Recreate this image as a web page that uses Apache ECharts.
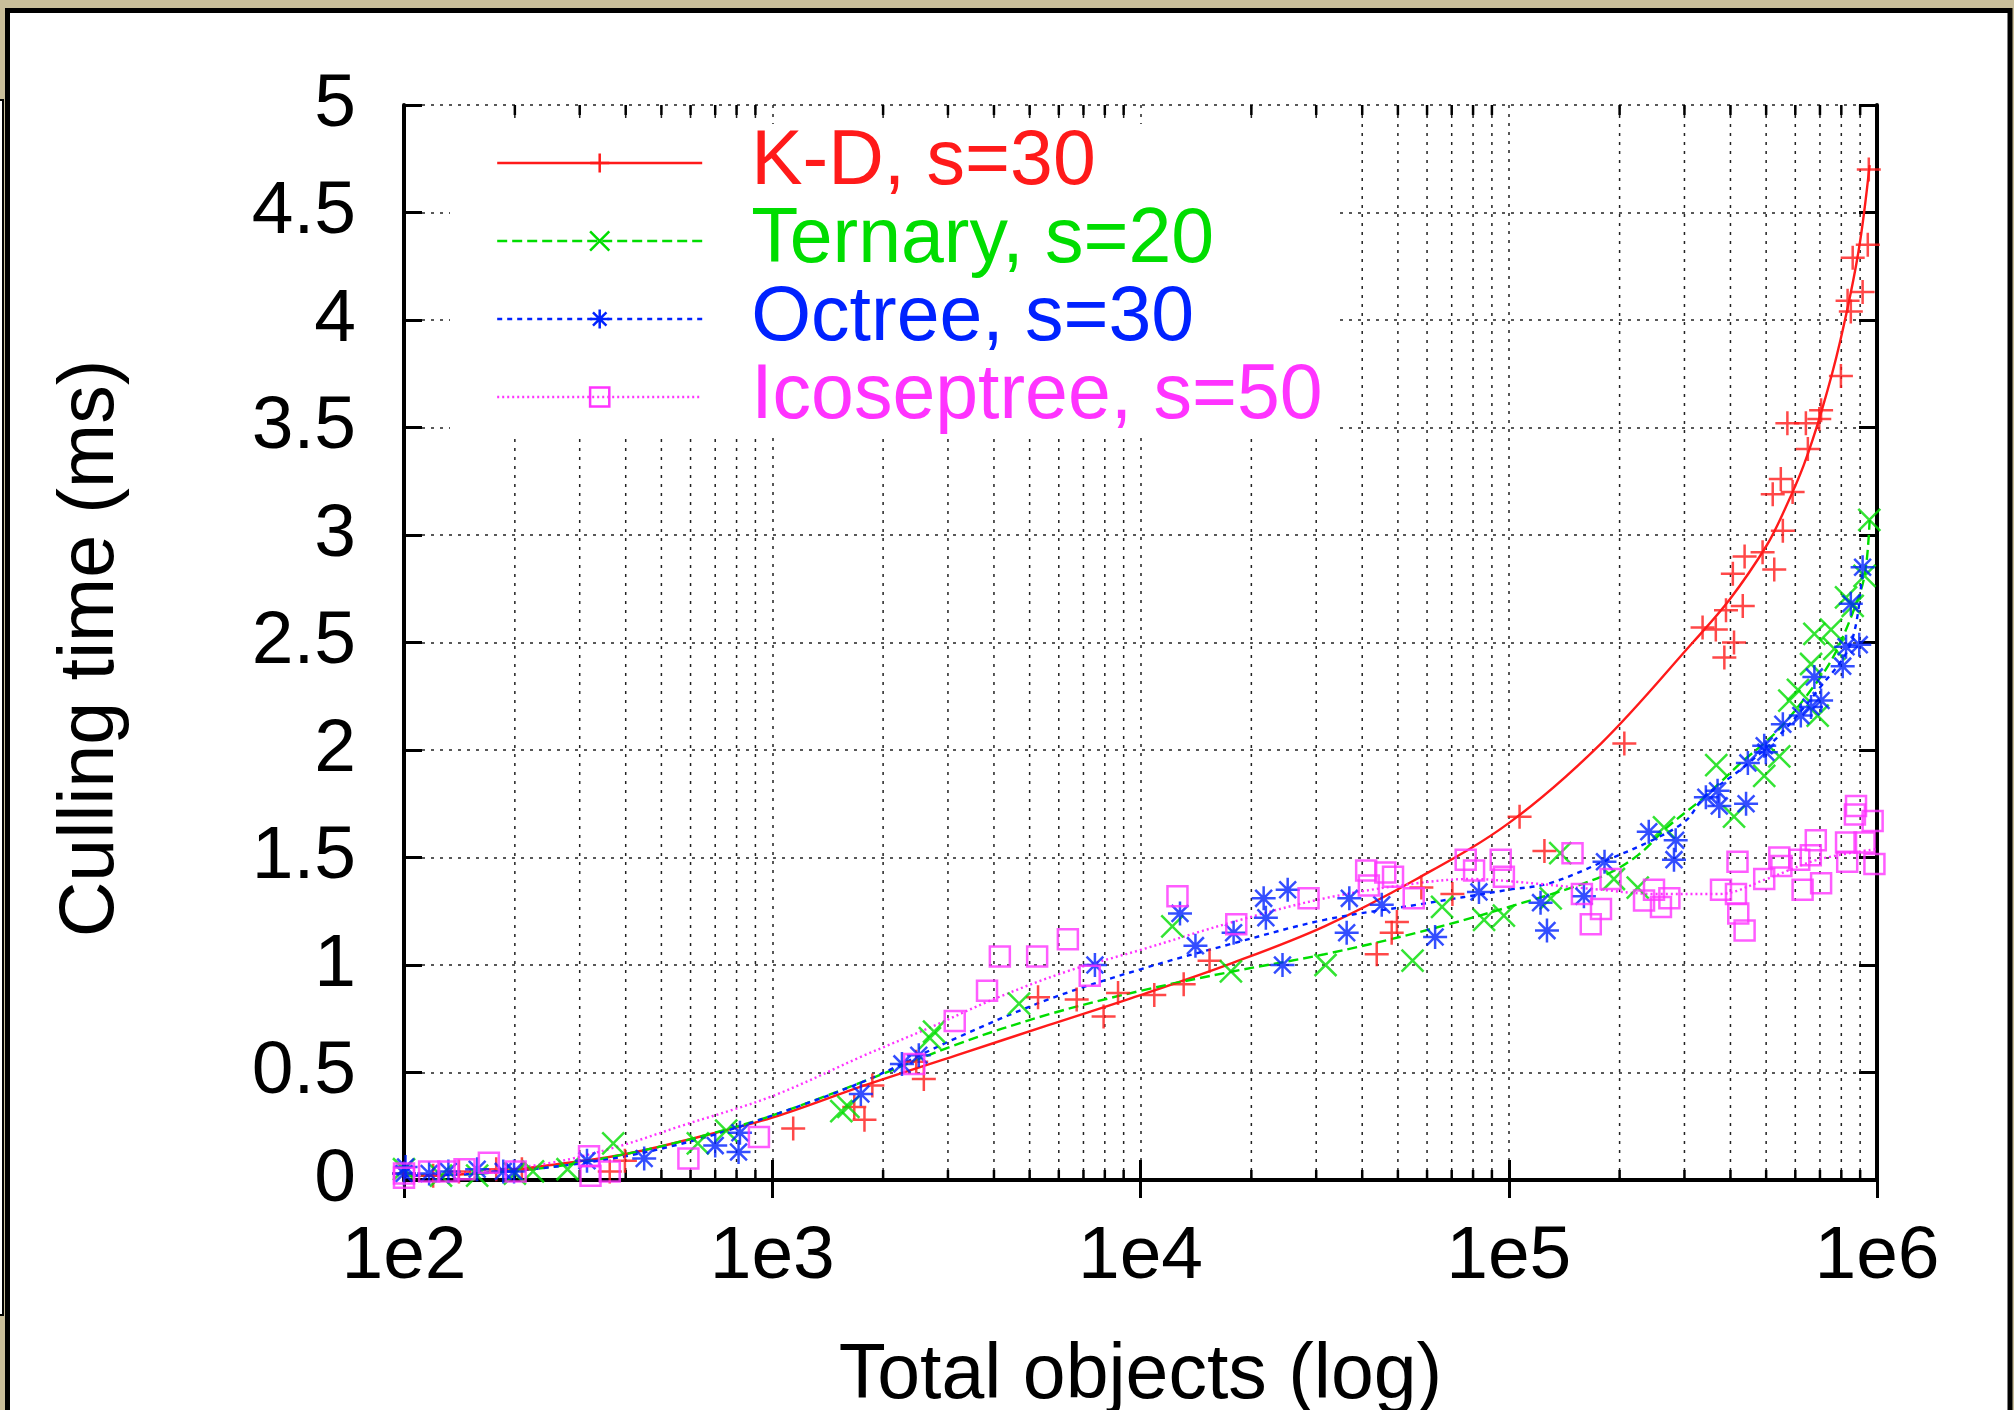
<!DOCTYPE html>
<html><head><meta charset="utf-8">
<script src="https://cdn.jsdelivr.net/npm/echarts@6.0.0/dist/echarts.min.js"></script>
<style>html,body{margin:0;padding:0;background:#c9be9a}#c{width:2014px;height:1410px}</style>
</head><body><div id="c"></div>
<script>
// ---------------- data ----------------
const xTickValues = [100, 1000, 10000, 100000, 1000000];
const xTickLabels = ['1e2', '1e3', '1e4', '1e5', '1e6'];
const xMinorTicks = [200,300,400,500,600,700,800,900,
  2000,3000,4000,5000,6000,7000,8000,9000,
  20000,30000,40000,50000,60000,70000,80000,90000,
  200000,300000,400000,500000,600000,700000,800000,900000];
const seriesNames = ['K-D, s=30', 'Ternary, s=20', 'Octree, s=30', 'Icoseptree, s=50'];

const kdPoints = [[950000,4.70],[944000,4.35],[859000,4.29],[914000,4.13],[832000,4.09],[849000,4.04],[798000,3.74],[705000,3.58],[697000,3.54],[571000,3.52],[641000,3.52],[649000,3.40],[548000,3.26],[521000,3.19],[590000,3.20],[555000,3.02],[489000,2.92],[437000,2.90],[406000,2.82],[526000,2.84],[432000,2.67],[389000,2.65],[336000,2.57],[365000,2.56],[409000,2.50],[385000,2.43],[206000,2.03],[107000,1.69],[125000,1.53],[70300,1.33],[57900,1.36],[49700,1.20],[48100,1.15],[43800,1.05],[15400,1.02],[13100,0.91],[10900,0.86],[8690,0.87],[7940,0.76],[6710,0.84],[5270,0.85],[2580,0.47],[2460,0.55],[1870,0.44],[1670,0.34],[1780,0.28],[1140,0.24],[398,0.09],[362,0.04],[100,0.03],[120,0.02],[141,0.04],[178,0.05],[209,0.05]];
const kdCurve = [[100,0.02],[158,0.03],[251,0.07],[398,0.12],[631,0.20],[1000,0.29],[1780,0.44],[3160,0.58],[5620,0.72],[10000,0.86],[17800,1.01],[31600,1.18],[56200,1.40],[100000,1.66],[178000,2.03],[316000,2.50],[398000,2.70],[501000,2.95],[562000,3.12],[631000,3.32],[708000,3.58],[794000,3.90],[891000,4.32],[955000,4.72]];

const ternaryPoints = [[953000,3.07],[925000,2.81],[824000,2.71],[859000,2.67],[676000,2.54],[750000,2.56],[766000,2.47],[662000,2.40],[610000,2.28],[578000,2.23],[690000,2.16],[543000,1.97],[494000,1.88],[366000,1.93],[409000,1.69],[264000,1.64],[130000,1.31],[138000,1.52],[193000,1.40],[224000,1.36],[85700,1.21],[97000,1.23],[65900,1.27],[54800,1.02],[31800,1.00],[17600,0.97],[12200,1.18],[4680,0.82],[2750,0.69],[2680,0.66],[1540,0.32],[1610,0.34],[750,0.23],[628,0.17],[370,0.17],[278,0.05],[224,0.04],[100,0.05],[126,0.02],[158,0.02],[200,0.03]];
const ternaryCurve = [[100,0.02],[158,0.03],[251,0.06],[398,0.12],[631,0.20],[1000,0.30],[1780,0.46],[3160,0.63],[5620,0.77],[10000,0.88],[17800,0.97],[31600,1.05],[56200,1.15],[100000,1.27],[178000,1.41],[224000,1.51],[269000,1.64],[339000,1.78],[427000,1.94],[537000,2.09],[676000,2.30],[759000,2.43],[851000,2.62],[925000,2.81],[955000,3.07]];

const octreePoints = [[914000,2.85],[849000,2.68],[895000,2.49],[824000,2.48],[807000,2.39],[676000,2.34],[705000,2.23],[662000,2.20],[621000,2.16],[555000,2.12],[494000,2.02],[499000,1.99],[446000,1.94],[369000,1.81],[343000,1.78],[373000,1.74],[441000,1.75],[240000,1.62],[284000,1.58],[281000,1.49],[182000,1.48],[160000,1.32],[122000,1.29],[127000,1.16],[83000,1.34],[63100,1.13],[45200,1.28],[36900,1.31],[36300,1.15],[25100,1.35],[21600,1.31],[21900,1.22],[24300,1.00],[17900,1.15],[14100,1.09],[12800,1.24],[7520,1.00],[2500,0.58],[2250,0.54],[1740,0.40],[817,0.22],[810,0.13],[700,0.16],[449,0.10],[314,0.09],[199,0.04],[100,0.03],[101,0.06],[117,0.03],[132,0.04],[158,0.05],[186,0.04]];
const octreeCurve = [[100,0.02],[158,0.03],[251,0.06],[398,0.11],[631,0.19],[1000,0.30],[1780,0.46],[3160,0.66],[5620,0.84],[10000,0.98],[17800,1.10],[31600,1.21],[56200,1.28],[100000,1.35],[129000,1.38],[186000,1.49],[245000,1.58],[302000,1.67],[339000,1.78],[427000,1.91],[537000,2.06],[692000,2.28],[851000,2.50],[912000,2.84]];

const icoPoints = [[877000,1.74],[871000,1.70],[973000,1.67],[824000,1.57],[925000,1.57],[984000,1.47],[830000,1.48],[682000,1.58],[661000,1.51],[705000,1.38],[628000,1.35],[615000,1.49],[543000,1.50],[550000,1.46],[494000,1.40],[418000,1.48],[414000,1.33],[420000,1.24],[437000,1.16],[377000,1.35],[273000,1.31],[248000,1.35],[259000,1.27],[233000,1.30],[189000,1.40],[178000,1.26],[167000,1.19],[158000,1.33],[149000,1.52],[97000,1.41],[95100,1.49],[80500,1.44],[76400,1.49],[55200,1.31],[46200,1.43],[41000,1.44],[41700,1.37],[48500,1.41],[28600,1.31],[18200,1.19],[12600,1.32],[7280,0.95],[6350,1.12],[5240,1.04],[4150,1.04],[3830,0.88],[3130,0.74],[2430,0.54],[920,0.20],[592,0.10],[362,0.04],[321,0.02],[318,0.11],[201,0.04],[170,0.08],[146,0.05],[132,0.04],[117,0.04],[100,0.03],[100,0.01]];
const icoCurve = [[100,0.02],[158,0.04],[251,0.08],[380,0.155],[562,0.25],[1000,0.39],[1780,0.58],[2690,0.71],[3980,0.84],[6310,0.97],[10000,1.07],[17800,1.20],[31600,1.31],[56200,1.38],[79400,1.40],[100000,1.39],[178000,1.35],[251000,1.33],[372000,1.33],[501000,1.40],[692000,1.49],[1000000,1.54]];

// ---------------- styles ----------------
const colors = ['#ff1a1a', '#00dd00', '#0022ff', '#ff33ff'];
const marks = [
  'path://M0,5L10,5M5,0L5,10',
  'path://M0,0L10,10M10,0L0,10',
  'path://M0,5L10,5M5,0L5,10M1.5,1.5L8.5,8.5M8.5,1.5L1.5,8.5',
  'path://M0,0L10,0L10,10L0,10Z'
];
const markSizes = [24, 22, 24, 20];
const dashes = ['solid', [10, 5], [5, 5], [2, 3]];
const pointSets = [kdPoints, ternaryPoints, octreePoints, icoPoints];
const curveSets = [kdCurve, ternaryCurve, octreeCurve, icoCurve];

const FONT = "'Liberation Sans', Arial, Helvetica, sans-serif";
const gridLine = { color: '#222', width: 1.5, type: [3, 6] };

const series = [];
series.push({
  type: 'custom', name: 'minor-grid', silent: true, z: 1, clip: false,
  data: xMinorTicks.map(v => [v, 0]),
  renderItem: function (params, api) {
    const v = api.value(0);
    const p0 = api.coord([v, 0]);
    const p1 = api.coord([v, 5]);
    return { type: 'group', children: [
      { type: 'line', shape: { x1: p0[0], y1: p0[1], x2: p1[0], y2: p1[1] }, style: { stroke: gridLine.color, lineWidth: gridLine.width, lineDash: gridLine.type } },
      { type: 'line', shape: { x1: p0[0], y1: p0[1], x2: p0[0], y2: p0[1] - 10 }, style: { stroke: '#000', lineWidth: 2.5 } },
      { type: 'line', shape: { x1: p1[0], y1: p1[1], x2: p1[0], y2: p1[1] + 10 }, style: { stroke: '#000', lineWidth: 2.5 } }
    ]};
  }
});
for (let i = 0; i < 4; i++) {
  series.push({
    type: 'line', name: seriesNames[i], data: curveSets[i], smooth: 0.35,
    showSymbol: false, symbol: marks[i], symbolSize: markSizes[i], silent: true, z: 3,
    lineStyle: { color: colors[i], width: 2.4, type: dashes[i] },
    itemStyle: { color: 'rgba(0,0,0,0)', borderColor: colors[i], borderWidth: 2.5 }
  });
  series.push({
    type: 'scatter', name: seriesNames[i] + ' points', data: pointSets[i],
    symbol: marks[i], symbolSize: markSizes[i], silent: true, z: 3,
    itemStyle: { color: 'rgba(0,0,0,0)', borderColor: colors[i], borderWidth: 2.5 }
  });
}

function xLabel(v) {
  const k = Math.round(Math.log10(v));
  const idx = xTickValues.findIndex(t => Math.round(Math.log10(t)) === k);
  return idx >= 0 ? xTickLabels[idx] : '';
}

const chart = echarts.init(document.getElementById('c'), null, { renderer: 'canvas' });
chart.setOption({
  animation: false,
  backgroundColor: '#c9be9a',
  textStyle: { fontFamily: FONT },
  graphic: [
    { type: 'rect', z: -10, silent: true, shape: { x: 7.5, y: 10.5, width: 2002.5, height: 1440 }, style: { fill: '#ffffff', stroke: '#000', lineWidth: 5 } },
    { type: 'rect', z: -10, silent: true, shape: { x: -3, y: 100, width: 6, height: 1215 }, style: { fill: '#ffffff', stroke: '#000', lineWidth: 2 } }
  ],
  grid: { left: 404, right: 137, top: 105, bottom: 230, containLabel: false, outerBoundsMode: 'none' },
  legend: {
    show: true, orient: 'vertical', left: 450, top: 124, selectedMode: false,
    backgroundColor: '#ffffff', padding: [0, 17, 0, 46], itemGap: 0,
    itemWidth: 205, itemHeight: 24, align: 'left', z: 4,
    textStyle: { fontSize: 77, lineHeight: 78, fontFamily: FONT, padding: [0, 0, 0, 44] },
    data: seriesNames.map((n, i) => ({
      name: n,
      textStyle: { color: colors[i] },
      itemStyle: { color: 'rgba(0,0,0,0)', borderColor: colors[i], borderWidth: 2.5 },
      lineStyle: { color: colors[i], width: 2.4, type: dashes[i] }
    }))
  },
  xAxis: [
    {
      type: 'log', logBase: 10, min: 100, max: 1000000, position: 'bottom', gridIndex: 0,
      axisLine: { show: true, lineStyle: { color: '#000', width: 4 } },
      axisTick: { show: true, inside: true, length: 20, lineStyle: { color: '#000', width: 3 } },
      axisLabel: { show: true, fontSize: 75, color: '#000', margin: 40, lineHeight: 75, fontFamily: FONT, formatter: xLabel, showMinLabel: true, showMaxLabel: true },
      splitLine: { show: true, lineStyle: gridLine },
      minorTick: { show: false }, minorSplitLine: { show: false },
      name: 'Total objects (log)', nameLocation: 'middle', nameGap: 158,
      nameTextStyle: { fontSize: 77, color: '#000', lineHeight: 77, fontFamily: FONT }
    },
    {
      type: 'log', logBase: 10, min: 100, max: 1000000, position: 'top', gridIndex: 0,
      axisLine: { show: true, lineStyle: { color: '#000', width: 4 } },
      axisTick: { show: true, inside: true, length: 18, lineStyle: { color: '#000', width: 3 } },
      axisLabel: { show: false }, splitLine: { show: false }
    }
  ],
  yAxis: [
    {
      type: 'value', min: 0, max: 5, interval: 0.5, position: 'left', gridIndex: 0,
      axisLine: { show: true, lineStyle: { color: '#000', width: 4 } },
      axisTick: { show: true, inside: true, length: 18, lineStyle: { color: '#000', width: 3 } },
      axisLabel: { show: true, fontSize: 75, color: '#000', margin: 48, fontFamily: FONT },
      splitLine: { show: true, lineStyle: gridLine },
      name: 'Culling time (ms)', nameLocation: 'middle', nameGap: 274,
      nameTextStyle: { fontSize: 77, color: '#000', lineHeight: 77, fontFamily: FONT, padding: [0, 12, 0, 0] }
    },
    {
      type: 'value', min: 0, max: 5, interval: 0.5, position: 'right', gridIndex: 0,
      axisLine: { show: true, lineStyle: { color: '#000', width: 4 } },
      axisTick: { show: true, inside: true, length: 18, lineStyle: { color: '#000', width: 3 } },
      axisLabel: { show: false }, splitLine: { show: false }
    }
  ],
  series: series
});
</script>
</body></html>
